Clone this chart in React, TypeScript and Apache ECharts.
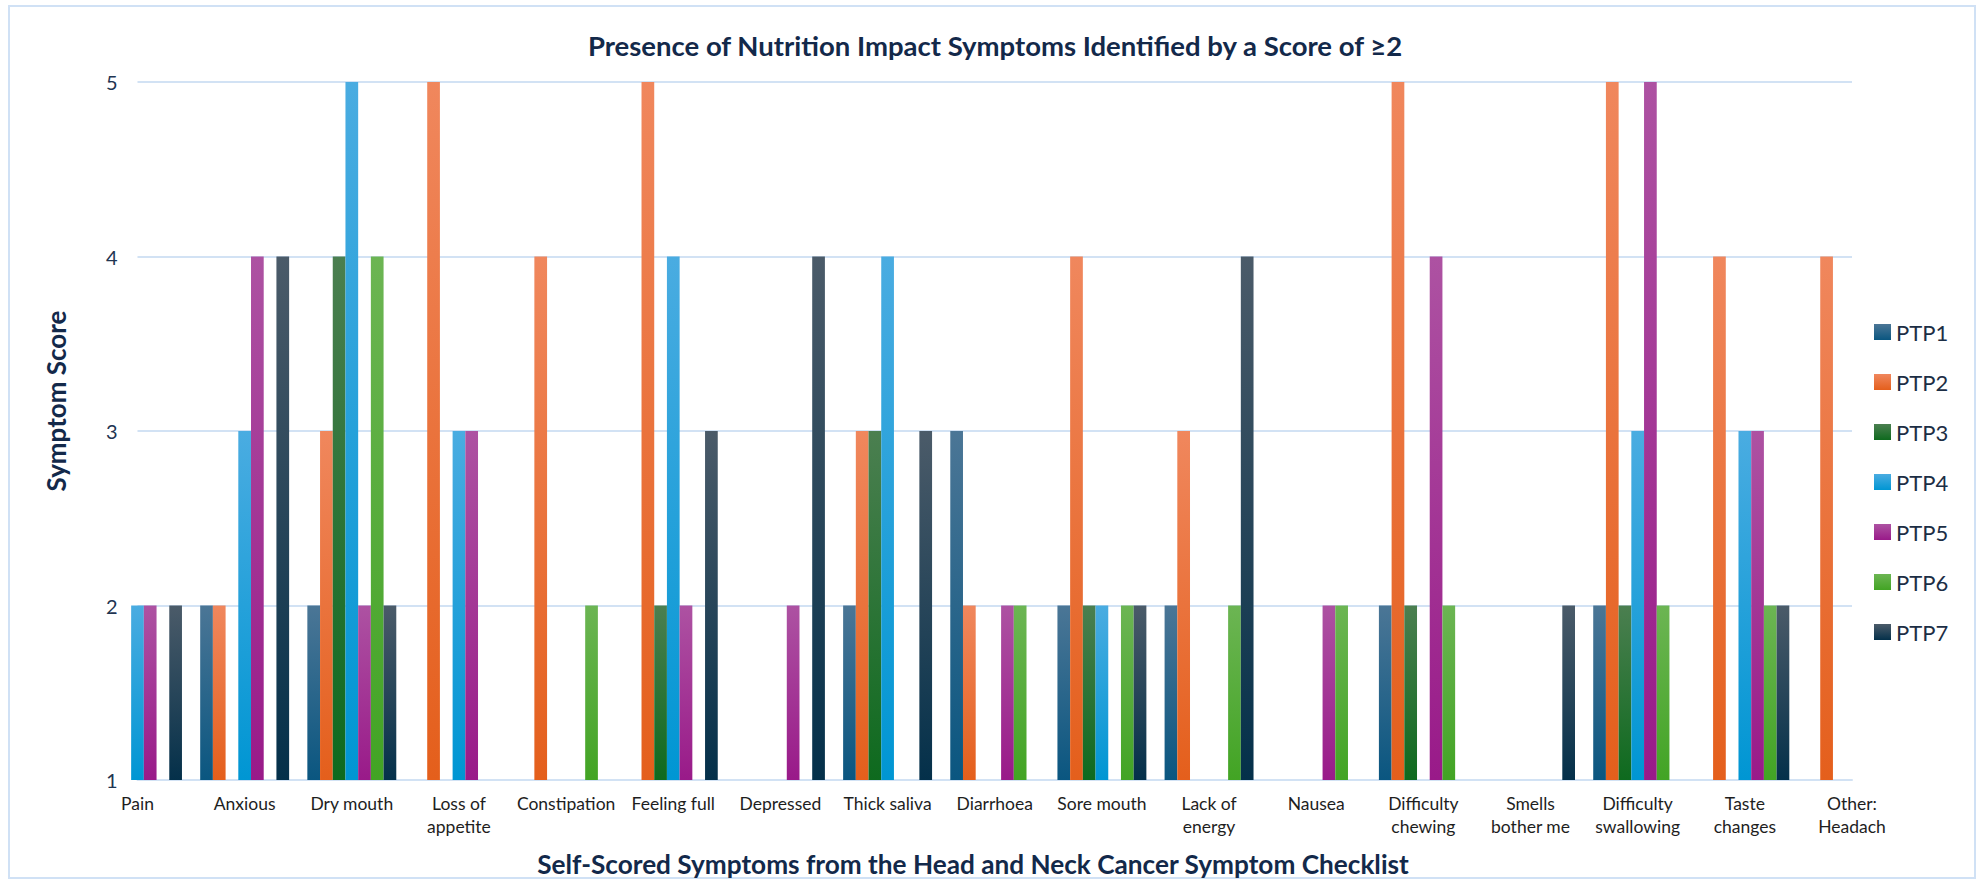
import React, { useEffect, useRef } from 'react';
import * as echarts from 'echarts';

const categories = [
  'Pain', 'Anxious', 'Dry mouth', 'Loss of\nappetite', 'Constipation', 'Feeling full',
  'Depressed', 'Thick saliva', 'Diarrhoea', 'Sore mouth', 'Lack of\nenergy', 'Nausea',
  'Difficulty\nchewing', 'Smells\nbother me', 'Difficulty\nswallowing', 'Taste\nchanges', 'Other:\nHeadach',
];

const seriesNames = ['PTP1', 'PTP2', 'PTP3', 'PTP4', 'PTP5', 'PTP6', 'PTP7'];

const ptp1 = [null, 2, 2, null, null, null, null, 2, 3, 2, 2, null, 2, null, 2, null, null];
const ptp2 = [null, 2, 3, 5, 4, 5, null, 3, 2, 4, 3, null, 5, null, 5, 4, 4];
const ptp3 = [null, null, 4, null, null, 2, null, 3, null, 2, null, null, 2, null, 2, null, null];
const ptp4 = [2, 3, 5, 3, null, 4, null, 4, null, 2, null, null, null, null, 3, 3, null];
const ptp5 = [2, 4, 2, 3, null, 2, 2, null, 2, null, null, 2, 4, null, 5, 3, null];
const ptp6 = [null, null, 4, null, 2, null, null, null, 2, 2, 2, 2, 2, null, 2, 2, null];
const ptp7 = [2, 4, 2, null, null, 3, 4, 3, null, 2, 4, null, null, 2, null, 2, null];

const seriesData = [ptp1, ptp2, ptp3, ptp4, ptp5, ptp6, ptp7];

const yTicks = [1, 2, 3, 4, 5];

const gradients: [string, string][] = [
  ['#4b7696', '#0a5680'],
  ['#f0875d', '#e45f1c'],
  ['#4b7f50', '#0e6a1e'],
  ['#4aace1', '#0096d3'],
  ['#ad52a2', '#991a89'],
  ['#6cb553', '#42a424'],
  ['#4b5b69', '#04304a'],
];

const TITLE = 'Presence of Nutrition Impact Symptoms Identified by a Score of ≥2';
const X_TITLE = 'Self-Scored Symptoms from the Head and Neck Cancer Symptom Checklist';
const Y_TITLE = 'Symptom Score';

const FONT = 'Lato, "Open Sans", sans-serif';
const NAVY = '#13294a';

export default function App() {
  const ref = useRef<HTMLDivElement>(null);

  useEffect(() => {
    if (!ref.current) return;
    const chart = echarts.init(ref.current, null, { renderer: 'svg' });

    const option: any = {
      animation: false,
      backgroundColor: '#ffffff',
      grid: {
        left: 137.5,
        right: 129,
        top: 82,
        bottom: 102,
        containLabel: false,
        outerBoundsMode: 'none',
      },
      legend: {
        orient: 'vertical',
        left: 1869,
        top: 316,
        icon: 'rect',
        itemWidth: 17,
        itemHeight: 16,
        itemGap: 28,
        data: seriesNames,
        textStyle: { fontFamily: FONT, fontSize: 22, color: '#1c2e45' },
      },
      xAxis: {
        type: 'category',
        data: categories,
        boundaryGap: false,
        axisLine: { show: true, lineStyle: { color: '#d2e2f4', width: 2 } },
        axisTick: { show: false },
        splitLine: { show: false },
        axisLabel: {
          interval: 0,
          hideOverlap: false,
          margin: 12,
          formatter: (v: string) => v.split('\n').map((l) => `{a|${l}}`).join('\n'),
          rich: {
            a: { fontFamily: FONT, fontSize: 17.5, color: '#1e1e1e', lineHeight: 23 },
          },
        },
      },
      yAxis: {
        type: 'value',
        min: yTicks[0],
        max: yTicks[yTicks.length - 1],
        interval: 1,
        axisLine: { show: false },
        axisTick: { show: false },
        splitLine: { show: true, lineStyle: { color: '#d2e2f4', width: 2 } },
        axisLabel: { margin: 20, fontFamily: FONT, fontSize: 20, color: '#1f3552' },
      },
      series: seriesNames.map((name, i) => ({
        name,
        type: 'bar',
        data: seriesData[i],
        barGap: '0%',
        barCategoryGap: '17%',
        clip: true,
        itemStyle: {
          color: new echarts.graphic.LinearGradient(0, 0, 0, 1, [
            { offset: 0, color: gradients[i][0] },
            { offset: 1, color: gradients[i][1] },
          ]),
        },
      })),
      graphic: [
        {
          type: 'rect',
          shape: { x: 9, y: 6, width: 1966, height: 872 },
          style: { fill: 'none', stroke: '#d0e1f5', lineWidth: 2 },
          silent: true,
          z: -10,
        },
        {
          type: 'text',
          x: 995,
          y: 45,
          style: {
            text: TITLE,
            font: `bold 27.5px ${FONT}`,
            fill: NAVY,
            textAlign: 'center',
            textVerticalAlign: 'middle',
            align: 'center',
            verticalAlign: 'middle',
          },
        },
        {
          type: 'text',
          x: 973,
          y: 864,
          style: {
            text: X_TITLE,
            font: `bold 26.2px ${FONT}`,
            fill: NAVY,
            textAlign: 'center',
            textVerticalAlign: 'middle',
            align: 'center',
            verticalAlign: 'middle',
          },
        },
        {
          type: 'text',
          x: 56,
          y: 401,
          rotation: Math.PI / 2,
          style: {
            text: Y_TITLE,
            font: `bold 26px ${FONT}`,
            fill: NAVY,
            textAlign: 'center',
            textVerticalAlign: 'middle',
            align: 'center',
            verticalAlign: 'middle',
          },
        },
      ],
    };

    chart.setOption(option);
    return () => chart.dispose();
  }, []);

  return (
    <div
      ref={ref}
      style={{ position: 'fixed', left: 0, top: 0, width: 1981, height: 882 }}
    />
  );
}
